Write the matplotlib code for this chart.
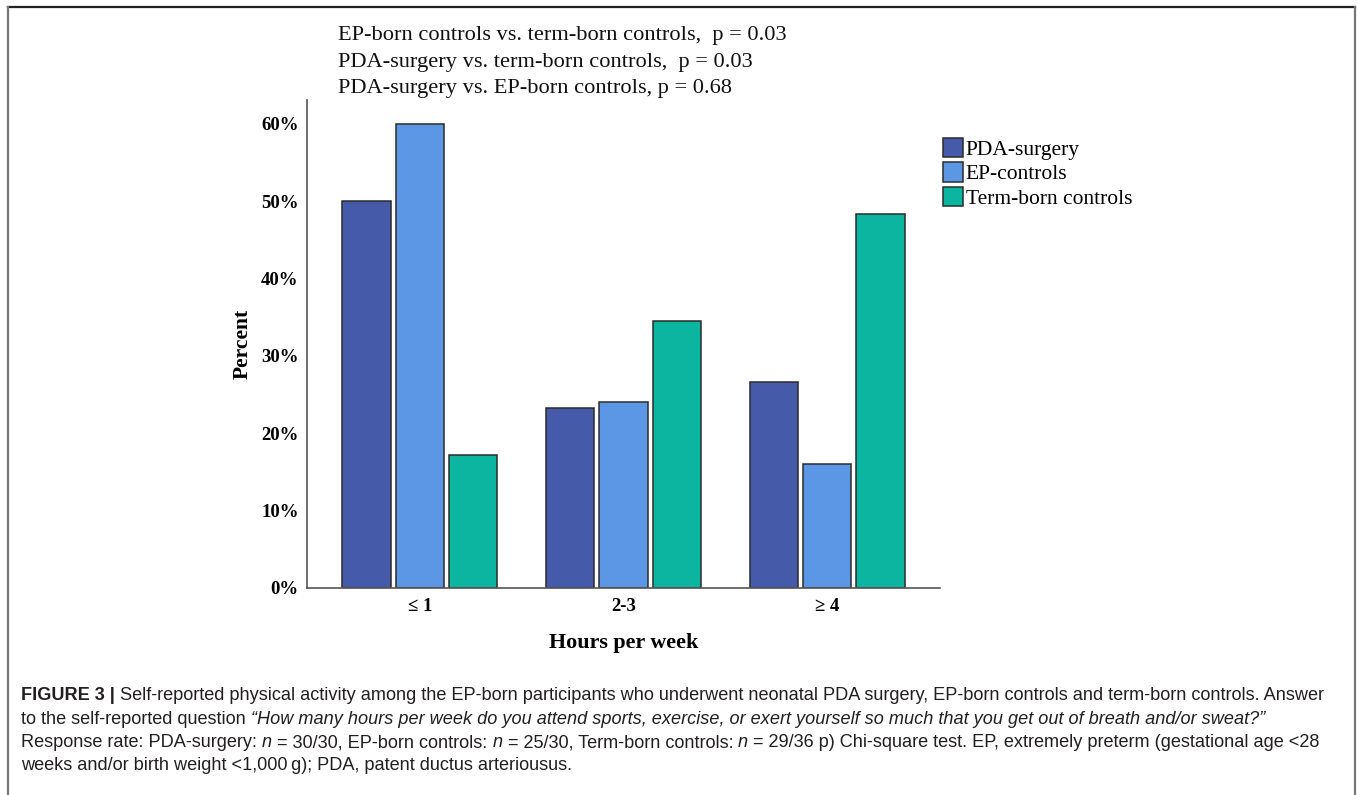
import numpy as np
import matplotlib
matplotlib.use("Agg")
import matplotlib.pyplot as plt
from matplotlib.lines import Line2D
from matplotlib.patches import Patch

categories = ["≤ 1", "2-3", "≥ 4"]
groups = ["PDA-surgery", "EP-controls", "Term-born controls"]
pda_surgery = [50.0, 23.3, 26.7]
ep_controls = [60.0, 24.0, 16.0]
term_born = [17.2, 34.5, 48.3]
colors = ["#455AA8", "#5B97E4", "#0BB5A0"]

p_lines = [
    "EP-born controls vs. term-born controls,  p = 0.03",
    "PDA-surgery vs. term-born controls,  p = 0.03",
    "PDA-surgery vs. EP-born controls, p = 0.68",
]

W, H = 1358, 795
fig = plt.figure(figsize=(W / 100, H / 100), dpi=100)
fig.patch.set_facecolor("white")

serif = "Liberation Serif"
sans = "Liberation Sans"

ax = fig.add_axes([307 / W, 1 - 588 / H, (940 - 307) / W, (588 - 100) / H])
x = np.arange(len(categories))
step = 0.262
bw = 0.236
for i, (vals, c) in enumerate(zip([pda_surgery, ep_controls, term_born], colors)):
    ax.bar(x + (i - 1) * step, vals, bw, color=c, edgecolor="#2b2b2b", linewidth=1.1, zorder=2)

ax.set_xlim(-0.554, 2.554)
ax.set_ylim(0, 63.1)
ax.set_yticks([0, 10, 20, 30, 40, 50, 60])
ax.set_yticklabels([f"{v}%" for v in range(0, 70, 10)], fontfamily=serif, fontweight="bold", fontsize=13.5)
ax.set_xticks(x)
ax.set_xticklabels(categories, fontfamily=serif, fontweight="bold", fontsize=13.5)
ax.tick_params(axis="both", length=0)
ax.tick_params(axis="y", pad=6)
ax.tick_params(axis="x", pad=7)
for s in ["top", "right"]:
    ax.spines[s].set_visible(False)
for s in ["left", "bottom"]:
    ax.spines[s].set_color("#555555")
    ax.spines[s].set_linewidth(1.2)

ax.set_ylabel("Percent", fontfamily=serif, fontweight="bold", fontsize=15.5, labelpad=6)
ax.set_xlabel("Hours per week", fontfamily=serif, fontweight="bold", fontsize=15.8, labelpad=13.5)

handles = [Patch(facecolor=c, edgecolor="#2b2b2b", linewidth=1.1) for c in colors]
fig.legend(handles, groups, loc="upper left", bbox_to_anchor=(934 / W, 1 - 129 / H),
           frameon=False, prop={"family": serif, "size": 15.5}, handlelength=0.95,
           handleheight=1.0, handletextpad=0.12, labelspacing=0.13, borderaxespad=0)

for k, line in enumerate(p_lines):
    fig.text(338 / W, 1 - (35.5 + 26.5 * k) / H, line, fontfamily=serif, fontsize=16.1,
             va="center", ha="left", color="#111111")

# border of the figure panel
fig.add_artist(Line2D([8 / W, 1355 / W], [1 - 7 / H, 1 - 7 / H], color="#222222", lw=1.6))
fig.add_artist(Line2D([8 / W, 8 / W], [1 - 7 / H, 0], color="#777777", lw=1.6))
fig.add_artist(Line2D([1355 / W, 1355 / W], [1 - 7 / H, 0], color="#777777", lw=1.6))

# caption with mixed styles
renderer = fig.canvas.get_renderer()
cap_size = 13.1
cap_color = "#231f20"


def text_width(s, **kw):
    t = fig.text(0, 0, s, fontfamily=sans, fontsize=cap_size, **kw)
    w = t.get_window_extent(renderer).width
    t.remove()
    return w


space_w = text_width("x x") - text_width("xx")


def draw_segments(x0, y0, segments):
    xpix = x0
    for txt, kw in segments:
        lead = len(txt) - len(txt.lstrip(" "))
        trail = len(txt) - len(txt.rstrip(" "))
        xpix += lead * space_w
        core = txt.strip(" ")
        t = fig.text(xpix / W, 1 - y0 / H, core, fontfamily=sans, fontsize=cap_size,
                     color=cap_color, va="baseline", ha="left", **kw)
        xpix = t.get_window_extent(renderer).x1 + trail * space_w


it = {"fontstyle": "italic"}
bf = {"fontweight": "bold"}
no = {}
draw_segments(21, 700, [
    ("FIGURE 3 | ", bf),
    ("Self-reported physical activity among the EP-born participants who underwent neonatal PDA surgery, "
     "EP-born controls and term-born controls. Answer", no),
])
draw_segments(21, 723.5, [
    ("to the self-reported question ", no),
    ("\u201cHow many hours per week do you attend sports, exercise, or exert yourself so much that you "
     "get out of breath and/or sweat?\u201d", it),
])
draw_segments(21, 747, [
    ("Response rate: PDA-surgery: ", no), ("n", it), (" = 30/30, EP-born controls: ", no), ("n", it),
    (" = 25/30, Term-born controls: ", no), ("n", it),
    (" = 29/36 p) Chi-square test. EP, extremely preterm (gestational age <28", no),
])
draw_segments(21, 770.5, [
    ("weeks and/or birth weight <1,000\u2009g); PDA, patent ductus arteriousus.", no),
])

fig.savefig("out.png", dpi=100, facecolor="white")
